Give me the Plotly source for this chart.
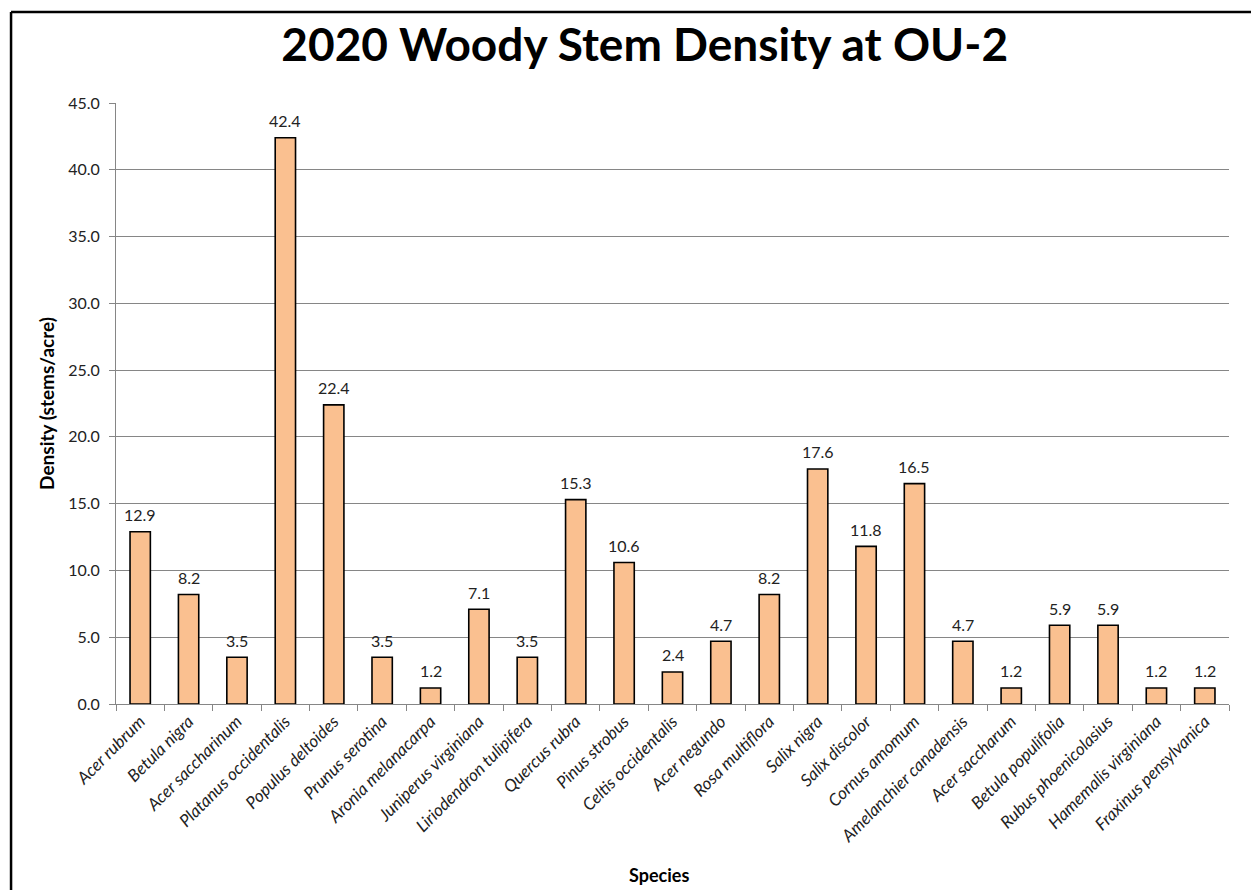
import plotly.graph_objects as go

species = [
    "Acer rubrum", "Betula nigra", "Acer saccharinum", "Platanus occidentalis",
    "Populus deltoides", "Prunus serotina", "Aronia melanacarpa", "Juniperus virginiana",
    "Liriodendron tulipifera", "Quercus rubra", "Pinus strobus", "Celtis occidentalis",
    "Acer negundo", "Rosa multiflora", "Salix nigra", "Salix discolor",
    "Cornus amomum", "Amelanchier canadensis", "Acer saccharum", "Betula populifolia",
    "Rubus phoenicolasius", "Hamemalis virginiana", "Fraxinus pensylvanica",
]
density = [
    12.9, 8.2, 3.5, 42.4, 22.4, 3.5, 1.2, 7.1, 3.5, 15.3, 10.6, 2.4,
    4.7, 8.2, 17.6, 11.8, 16.5, 4.7, 1.2, 5.9, 5.9, 1.2, 1.2,
]
y_ticks = [0, 5, 10, 15, 20, 25, 30, 35, 40, 45]

FONT = "Lato, 'Open Sans', sans-serif"

fig = go.Figure(
    go.Bar(
        x=species,
        y=density,
        marker=dict(color="#FAC090", line=dict(color="#000000", width=1.6)),
        cliponaxis=False,
    )
)

# Value labels above each bar
for name, val in zip(species, density):
    fig.add_annotation(
        x=name, y=val, xref="x", yref="y",
        text=f"{val:.1f}", showarrow=False,
        yanchor="middle", yshift=17,
        font=dict(size=16, color="#222222", family=FONT),
    )

fig.update_layout(
    width=1251,
    height=890,
    margin=dict(l=116, r=22, t=103, b=186),
    paper_bgcolor="white",
    plot_bgcolor="white",
    bargap=0.58,
    showlegend=False,
    font=dict(family=FONT, color="#222222"),
    title=dict(
        text="<b>2020 Woody Stem Density at OU-2</b>",
        x=0.475,
        xanchor="center",
        xref="paper",
        y=0.95,
        yanchor="middle",
        font=dict(size=46, color="#000000", family=FONT),
    ),
)

fig.update_xaxes(
    type="category",
    tickmode="array",
    tickvals=species,
    ticktext=[f"<i>{s}</i>" for s in species],
    tickangle=-45,
    tickfont=dict(size=17, color="#222222", family=FONT),
    ticks="outside",
    tickson="boundaries",
    ticklen=6,
    tickcolor="#868686",
    showline=True,
    linecolor="#868686",
    linewidth=1,
    showgrid=False,
)

fig.update_yaxes(
    range=[0, 45],
    tickmode="array",
    tickvals=y_ticks,
    ticktext=[f"{v:.1f}" for v in y_ticks],
    tickfont=dict(size=16, color="#222222", family=FONT),
    ticks="outside",
    ticklen=6,
    tickcolor="#868686",
    ticklabelstandoff=6,
    showline=True,
    linecolor="#868686",
    linewidth=1,
    showgrid=True,
    gridcolor="#868686",
    gridwidth=1,
    zeroline=False,
    title=dict(text="<b>Density (stems/acre)</b>", font=dict(size=19, color="#000000", family=FONT), standoff=8),
)

# X axis title placed low under the rotated species names
fig.add_annotation(
    x=0.488, y=-0.285, xref="paper", yref="paper",
    text="<b>Species</b>", showarrow=False,
    xanchor="center", yanchor="middle",
    font=dict(size=18, color="#000000", family=FONT),
)

# Outer frame along the left and top edges of the chart area
fig.add_shape(type="line", xref="paper", yref="paper",
              x0=-0.0943, x1=-0.0943, y0=1.1514, y1=-0.32,
              line=dict(color="#000000", width=2.5))
fig.add_shape(type="line", xref="paper", yref="paper",
              x0=-0.0943, x1=1.03, y0=1.1514, y1=1.1514,
              line=dict(color="#000000", width=2.5))

fig.write_html("out.html")
